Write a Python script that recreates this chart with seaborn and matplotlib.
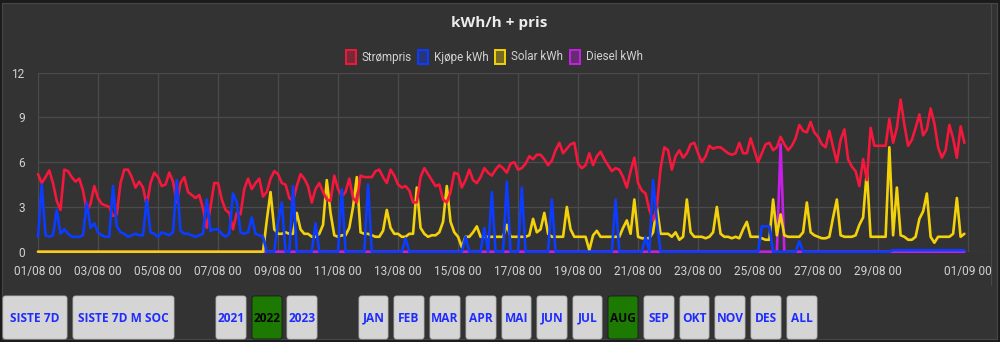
import matplotlib
matplotlib.use("Agg")
import matplotlib.pyplot as plt
from matplotlib.patches import FancyBboxPatch, Rectangle
import matplotlib.colors as mcolors
import pandas as pd
import seaborn as sns

# ---- series for August 2022, sampled every 3 h (8 values per day) ----
strompris = [
    5.2, 4.6, 5.0, 5.45, 4.6, 3.4, 2.8, 5.5,   # 01/08
    5.4, 5.0, 4.7, 4.9, 4.1, 2.7, 3.2, 4.4,    # 02/08
    3.6, 3.2, 3.1, 3.0, 2.4, 2.5, 4.6, 5.5,    # 03/08
    5.5, 5.0, 4.3, 4.7, 4.3, 3.1, 4.6, 5.3,    # 04/08
    5.0, 4.4, 4.5, 5.3, 4.7, 3.3, 4.6, 5.0,    # 05/08
    4.0, 3.8, 3.6, 3.8, 2.9, 1.6, 3.0, 4.6,    # 06/08
    4.6, 3.5, 2.8, 2.6, 1.5, 2.6, 2.5, 4.2,    # 07/08
    4.9, 4.2, 4.6, 4.9, 3.7, 4.0, 4.9, 5.4,    # 08/08
    5.2, 4.6, 4.5, 3.6, 3.4, 4.4, 5.2, 4.9,    # 09/08
    4.4, 3.3, 4.2, 4.6, 4.0, 3.5, 3.4, 5.1,    # 10/08
    4.2, 3.7, 4.0, 4.9, 3.6, 3.3, 5.1, 5.0,    # 11/08
    5.0, 5.0, 5.4, 5.5, 5.0, 4.6, 5.5, 5.1,    # 12/08
    4.5, 4.3, 4.4, 4.1, 3.3, 3.3, 5.0, 5.6,    # 13/08
    5.2, 4.8, 4.4, 4.5, 3.5, 3.3, 4.0, 5.3,    # 14/08
    5.2, 4.3, 4.8, 5.5, 4.8, 4.6, 5.0, 5.6,    # 15/08
    5.3, 5.1, 5.5, 5.8, 5.6, 5.3, 5.9, 6.0,    # 16/08
    5.5, 5.6, 5.9, 6.4, 6.2, 6.5, 6.5, 6.2,    # 17/08
    5.8, 6.1, 6.8, 7.3, 6.6, 6.9, 7.2, 7.3,    # 18/08
    5.9, 5.6, 5.8, 6.6, 5.8, 6.4, 6.7, 6.2,    # 19/08
    5.8, 5.4, 5.6, 5.5, 5.0, 4.3, 5.4, 6.3,    # 20/08
    4.6, 4.1, 3.9, 2.8, 2.1, 3.0, 5.6, 7.0,    # 21/08
    6.8, 5.5, 6.4, 6.8, 6.3, 6.6, 7.2, 7.3,    # 22/08
    6.6, 6.0, 6.4, 7.1, 6.9, 7.0, 7.0, 6.8,    # 23/08
    6.6, 6.5, 6.6, 7.3, 6.6, 6.6, 7.6, 6.8,    # 24/08
    6.0, 6.6, 7.2, 7.3, 6.8, 7.0, 7.7, 7.2,    # 25/08
    6.8, 7.1, 7.6, 8.5, 8.1, 8.0, 8.7, 8.0,    # 26/08
    7.7, 7.2, 7.0, 8.1, 7.0, 6.0, 7.5, 8.2,    # 27/08
    6.2, 5.7, 5.4, 4.4, 6.2, 4.8, 8.3, 7.1,    # 28/08
    7.1, 7.1, 7.1, 8.9, 7.3, 8.3, 10.2, 8.5,   # 29/08
    7.1, 7.5, 8.3, 9.2, 7.8, 8.2, 9.6, 8.6,    # 30/08
    7.0, 6.3, 6.8, 8.5, 7.6, 6.3, 8.4, 7.3,    # 31/08
]

kjope_kwh = [
    1.0, 4.5, 1.1, 1.0, 1.1, 2.8, 1.2, 1.5,    # 01/08
    1.2, 1.0, 1.0, 1.0, 1.1, 3.3, 1.6, 1.9,    # 02/08
    1.3, 1.1, 1.0, 1.0, 4.4, 1.7, 1.3, 1.2,    # 03/08
    1.0, 1.1, 1.2, 1.1, 1.1, 3.5, 1.3, 1.2,    # 04/08
    1.0, 1.3, 1.2, 1.1, 1.3, 4.8, 1.4, 1.2,    # 05/08
    1.2, 1.1, 1.0, 1.1, 1.2, 3.5, 1.4, 1.5,    # 06/08
    1.5, 1.2, 1.0, 1.2, 3.9, 3.3, 1.3, 1.2,    # 07/08
    1.3, 2.3, 1.2, 1.1, 1.0, 0.0, 0.0, 0.0,    # 08/08
    2.0, 3.3, 0.0, 0.0, 4.4, 0.0, 0.0, 0.0,    # 09/08
    0.0, 0.0, 1.9, 0.0, 0.0, 0.0, 0.0, 0.0,    # 10/08
    0.0, 4.2, 0.0, 0.0, 0.0, 0.0, 0.0, 0.0,    # 11/08
    4.5, 0.0, 0.0, 0.0, 0.0, 0.0, 0.0, 0.0,    # 12/08
    0.0, 0.0, 0.9, 0.0, 0.0, 0.0, 0.0, 0.0,    # 13/08
    0.0, 0.0, 0.0, 0.0, 0.0, 0.0, 0.0, 0.0,    # 14/08
    0.0, 0.0, 1.0, 0.0, 0.0, 0.0, 0.0, 1.6,    # 15/08
    0.0, 4.0, 0.0, 0.0, 0.0, 4.7, 0.0, 0.0,    # 16/08
    0.0, 4.3, 0.0, 0.0, 0.0, 0.0, 0.0, 0.0,    # 17/08
    0.0, 3.5, 0.0, 0.0, 0.0, 0.0, 0.0, 0.0,    # 18/08
    0.0, 0.0, 0.0, 0.0, 0.0, 0.0, 0.0, 0.0,    # 19/08
    0.0, 0.0, 3.5, 0.0, 0.0, 0.0, 0.0, 0.0,    # 20/08
    0.0, 0.0, 1.0, 0.0, 4.8, 2.1, 0.0, 0.0,    # 21/08
    0.0, 0.0, 0.0, 0.0, 0.0, 0.0, 0.0, 0.0,    # 22/08
    0.0, 0.0, 0.0, 0.0, 0.0, 0.0, 0.0, 0.0,    # 23/08
    0.0, 0.0, 0.0, 0.0, 0.0, 0.0, 0.0, 0.0,    # 24/08
    0.0, 1.7, 1.7, 1.7, 0.0, 0.0, 0.0, 0.0,    # 25/08
    0.0, 0.0, 0.0, 0.7, 0.0, 0.0, 0.0, 0.0,    # 26/08
    0.0, 0.0, 0.0, 0.0, 0.0, 0.0, 0.0, 0.0,    # 27/08
    0.0, 0.0, 0.0, 0.0, 0.0, 0.0, 0.0, 0.0,    # 28/08
    0.0, 0.0, 0.0, 0.0, 0.1, 0.1, 0.1, 0.1,    # 29/08
    0.1, 0.1, 0.1, 0.1, 0.1, 0.1, 0.1, 0.1,    # 30/08
    0.1, 0.1, 0.1, 0.1, 0.1, 0.1, 0.1, 0.1,    # 31/08
]

solar_kwh = [
    0.0, 0.0, 0.0, 0.0, 0.0, 0.0, 0.0, 0.0,    # 01/08
    0.0, 0.0, 0.0, 0.0, 0.0, 0.0, 0.0, 0.0,    # 02/08
    0.0, 0.0, 0.0, 0.0, 0.0, 0.0, 0.0, 0.0,    # 03/08
    0.0, 0.0, 0.0, 0.0, 0.0, 0.0, 0.0, 0.0,    # 04/08
    0.0, 0.0, 0.0, 0.0, 0.0, 0.0, 0.0, 0.0,    # 05/08
    0.0, 0.0, 0.0, 0.0, 0.0, 0.0, 0.0, 0.0,    # 06/08
    0.0, 0.0, 0.0, 0.0, 0.0, 0.0, 0.0, 0.0,    # 07/08
    0.0, 0.0, 0.0, 0.0, 0.0, 2.1, 4.0, 1.5,    # 08/08
    1.2, 1.2, 1.3, 1.2, 1.2, 2.6, 1.5, 1.2,    # 09/08
    1.2, 1.0, 1.0, 1.2, 1.8, 4.8, 2.6, 1.1,    # 10/08
    1.0, 1.1, 1.1, 1.6, 3.0, 5.0, 1.3, 1.2,    # 11/08
    1.2, 1.1, 1.0, 1.0, 1.4, 2.8, 1.6, 1.2,    # 12/08
    1.2, 1.0, 1.0, 1.2, 1.2, 4.3, 1.6, 1.2,    # 13/08
    1.0, 1.1, 1.1, 1.3, 2.0, 4.4, 2.0, 1.3,    # 14/08
    1.0, 0.3, 1.0, 1.0, 1.3, 1.7, 1.0, 1.0,    # 15/08
    1.0, 1.0, 1.0, 1.0, 1.0, 1.8, 1.0, 1.0,    # 16/08
    1.0, 1.0, 1.0, 1.1, 2.2, 1.3, 1.5, 2.6,    # 17/08
    1.2, 1.0, 1.0, 1.0, 1.0, 3.0, 1.5, 1.0,    # 18/08
    1.0, 1.0, 1.0, 0.1, 1.1, 1.4, 1.0, 1.0,    # 19/08
    1.0, 1.0, 1.0, 1.0, 1.6, 2.1, 1.2, 3.5,    # 20/08
    1.0, 0.9, 0.9, 0.9, 1.3, 3.0, 1.2, 1.2,    # 21/08
    1.2, 1.0, 1.3, 0.8, 1.0, 3.5, 1.3, 1.0,    # 22/08
    1.0, 1.0, 0.9, 1.0, 1.3, 3.0, 1.2, 1.0,    # 23/08
    1.0, 0.9, 1.0, 0.9, 1.5, 2.0, 1.0, 1.0,    # 24/08
    1.0, 0.9, 0.8, 0.8, 3.5, 1.1, 2.5, 1.1,    # 25/08
    1.0, 1.0, 1.0, 1.0, 1.3, 3.3, 1.3, 1.1,    # 26/08
    1.0, 0.9, 0.9, 1.0, 2.3, 3.5, 1.1, 1.0,    # 27/08
    1.0, 1.0, 1.1, 1.8, 2.3, 5.4, 1.0, 1.0,    # 28/08
    1.0, 1.0, 1.0, 7.0, 1.1, 4.3, 1.1, 1.0,    # 29/08
    0.8, 0.8, 1.0, 2.2, 2.7, 3.9, 1.0, 0.6,    # 30/08
    1.0, 1.0, 1.0, 1.0, 1.2, 3.6, 1.0, 1.2,    # 31/08
]

diesel_kwh = [
    0.0, 0.0, 0.0, 0.0, 0.0, 0.0, 0.0, 0.0,    # 01/08
    0.0, 0.0, 0.0, 0.0, 0.0, 0.0, 0.0, 0.0,    # 02/08
    0.0, 0.0, 0.0, 0.0, 0.0, 0.0, 0.0, 0.0,    # 03/08
    0.0, 0.0, 0.0, 0.0, 0.0, 0.0, 0.0, 0.0,    # 04/08
    0.0, 0.0, 0.0, 0.0, 0.0, 0.0, 0.0, 0.0,    # 05/08
    0.0, 0.0, 0.0, 0.0, 0.0, 0.0, 0.0, 0.0,    # 06/08
    0.0, 0.0, 0.0, 0.0, 0.0, 0.0, 0.0, 0.0,    # 07/08
    0.0, 0.0, 0.0, 0.0, 0.0, 0.0, 0.0, 0.0,    # 08/08
    0.0, 0.0, 0.0, 0.0, 0.0, 0.0, 0.0, 0.0,    # 09/08
    0.0, 0.0, 0.0, 0.0, 0.0, 0.0, 0.0, 0.0,    # 10/08
    0.0, 0.0, 0.0, 0.0, 0.0, 0.0, 0.0, 0.0,    # 11/08
    0.0, 0.0, 0.0, 0.0, 0.0, 0.0, 0.0, 0.0,    # 12/08
    0.0, 0.0, 0.0, 0.0, 0.0, 0.0, 0.0, 0.0,    # 13/08
    0.0, 0.0, 0.0, 0.0, 0.0, 0.0, 0.0, 0.0,    # 14/08
    0.0, 0.0, 0.0, 0.0, 0.0, 0.0, 0.0, 0.0,    # 15/08
    0.0, 0.0, 0.0, 0.0, 0.0, 0.0, 0.0, 0.0,    # 16/08
    0.0, 0.0, 0.0, 0.0, 0.0, 0.0, 0.0, 0.0,    # 17/08
    0.0, 0.0, 0.0, 0.0, 0.0, 0.0, 0.0, 0.0,    # 18/08
    0.0, 0.0, 0.0, 0.0, 0.0, 0.0, 0.0, 0.0,    # 19/08
    0.0, 0.0, 0.0, 0.0, 0.0, 0.0, 0.0, 0.0,    # 20/08
    0.0, 0.0, 0.0, 0.0, 0.0, 0.0, 0.0, 0.0,    # 21/08
    0.0, 0.0, 0.0, 0.0, 0.0, 0.0, 0.0, 0.0,    # 22/08
    0.0, 0.0, 0.0, 0.0, 0.0, 0.0, 0.0, 0.0,    # 23/08
    0.0, 0.0, 0.0, 0.0, 0.0, 0.0, 0.0, 0.0,    # 24/08
    0.0, 0.0, 0.0, 0.0, 0.0, 0.0, 7.2, 0.0,    # 25/08
    0.0, 0.0, 0.0, 0.0, 0.0, 0.0, 0.0, 0.0,    # 26/08
    0.0, 0.0, 0.0, 0.0, 0.0, 0.0, 0.0, 0.0,    # 27/08
    0.0, 0.0, 0.0, 0.0, 0.0, 0.0, 0.0, 0.0,    # 28/08
    0.0, 0.0, 0.0, 0.0, 0.0, 0.0, 0.0, 0.0,    # 29/08
    0.0, 0.0, 0.0, 0.0, 0.0, 0.0, 0.0, 0.0,    # 30/08
    0.0, 0.0, 0.0, 0.0, 0.0, 0.0, 0.0, 0.0,    # 31/08
]

series_names = ["Strømpris", "Kjøpe kWh", "Solar kWh", "Diesel kWh"]
series_colors = ["#f5173c", "#0b3cff", "#f3d20a", "#c81fe8"]

x_tick_labels = ["01/08 00", "03/08 00", "05/08 00", "07/08 00", "09/08 00",
                 "11/08 00", "13/08 00", "15/08 00", "17/08 00", "19/08 00",
                 "21/08 00", "23/08 00", "25/08 00", "27/08 00", "29/08 00",
                 "01/09 00"]
y_ticks = [0, 3, 6, 9, 12]

buttons_left = ["SISTE 7D", "SISTE 7D M SOC"]
buttons_year = ["2021", "2022", "2023"]
buttons_month = ["JAN", "FEB", "MAR", "APR", "MAI", "JUN", "JUL", "AUG",
                 "SEP", "OKT", "NOV", "DES", "ALL"]
active_buttons = {"2022", "AUG"}

# ---- long-form table ----
times = pd.date_range("2022-08-01 00:00", periods=len(strompris), freq="3h")
values = [strompris, kjope_kwh, solar_kwh, diesel_kwh]
df = pd.concat(
    [pd.DataFrame({"tid": times, "verdi": v, "serie": n})
     for n, v in zip(series_names, values)],
    ignore_index=True,
)

# ---- style ----
sns.set_theme(style="dark")
plt.rcParams["font.family"] = ["Roboto", "DejaVu Sans"]
PANEL = "#333333"
GRID = "#4b4b4b"
TXT = "#d2d2d2"

W, H = 1000, 342
fig = plt.figure(figsize=(W / 100, H / 100), dpi=100, facecolor="#1b1b1b")

# background layer in pixel units
bg = fig.add_axes([0, 0, 1, 1], zorder=0)
bg.set_xlim(0, W)
bg.set_ylim(H, 0)
bg.axis("off")
bg.add_patch(Rectangle((1.5, 3), 995, 336, facecolor=PANEL,
                       edgecolor="#474747", lw=0.8))
bg.plot([991, 991], [3, 285], color="#474747", lw=0.8)

# chart area
left_px, right_px, top_px, bottom_px = 38, 990, 72.7, 251.7
ax = fig.add_axes([left_px / W, 1 - bottom_px / H,
                   (right_px - left_px) / W, (bottom_px - top_px) / H],
                  zorder=1)
ax.set_facecolor("none")

# drawing order: diesel at the back, then solar, price, and purchase on top
draw_order = [("Diesel kWh", 3), ("Solar kWh", 2), ("Strømpris", 0), ("Kjøpe kWh", 1)]
for z, (name, idx) in enumerate(draw_order):
    sub = df[df["serie"] == name]
    sns.lineplot(data=sub, x="tid", y="verdi", ax=ax, color=series_colors[idx],
                 lw=1.9, legend=False, zorder=3 + z, estimator=None,
                 clip_on=False)

ax.set_xlim(pd.Timestamp("2022-08-01 00:00"), pd.Timestamp("2022-09-01 17:30"))
ax.set_ylim(0, 12)
xt = pd.to_datetime([pd.Timestamp(2022, int(s[3:5]), int(s[0:2])) for s in x_tick_labels])
ax.set_xticks(xt)
ax.set_xticklabels(x_tick_labels)
ax.set_yticks(y_ticks)
ax.set_yticklabels([str(v) for v in y_ticks])
ax.set_xlabel("")
ax.set_ylabel("")
ax.grid(True, color=GRID, lw=0.9)
for s in ax.spines.values():
    s.set_visible(False)
ax.tick_params(axis="both", colors=TXT, labelsize=8.6, length=6.5, width=0.9,
               color=GRID, pad=3, direction="out")

# title
bg.text(499, 23, "kWh/h + pris", ha="center", va="center", fontsize=11,
        fontweight="bold", color="#ececec", family=["Open Sans", "DejaVu Sans"])

# legend row
leg_items = [(346, 362), (418, 434), (495, 511), (570, 586)]
for (bx, tx), name, col in zip(leg_items, series_names, series_colors):
    rgb = mcolors.to_rgb(col)
    bg.add_patch(Rectangle((bx, 50), 10, 13.5,
                           facecolor=(rgb[0], rgb[1], rgb[2], 0.35),
                           edgecolor=col, lw=1.4))
    bg.text(tx, 57, name, ha="left", va="center", fontsize=8.4, color=TXT)

# navigation buttons
btn_pos = {
    "SISTE 7D": (3, 67), "SISTE 7D M SOC": (73, 174),
    "2021": (216, 246), "2022": (252, 282), "2023": (287, 317),
    "JAN": (359, 388), "FEB": (394, 424), "MAR": (430, 460), "APR": (466, 496),
    "MAI": (502, 531), "JUN": (537, 567), "JUL": (573, 602), "AUG": (608, 638),
    "SEP": (644, 674), "OKT": (680, 709), "NOV": (715, 745), "DES": (751, 781),
    "ALL": (787, 817),
}
for label in buttons_left + buttons_year + buttons_month:
    x0, x1 = btn_pos[label]
    active = label in active_buttons
    bg.add_patch(FancyBboxPatch((x0, 296), x1 - x0, 43,
                                boxstyle="round,pad=0,rounding_size=2.5",
                                facecolor="#1c7a02" if active else "#d5d5d5",
                                edgecolor="#1a1a1a" if active else "#b9b9b9",
                                lw=0.6))
    bg.text((x0 + x1) / 2, 318, label, ha="center", va="center",
            fontsize=8.6, fontweight="bold",
            color="#050505" if active else "#1f2bff",
            family=["Open Sans", "DejaVu Sans"])

fig.savefig("out.png", dpi=100, facecolor=fig.get_facecolor())
